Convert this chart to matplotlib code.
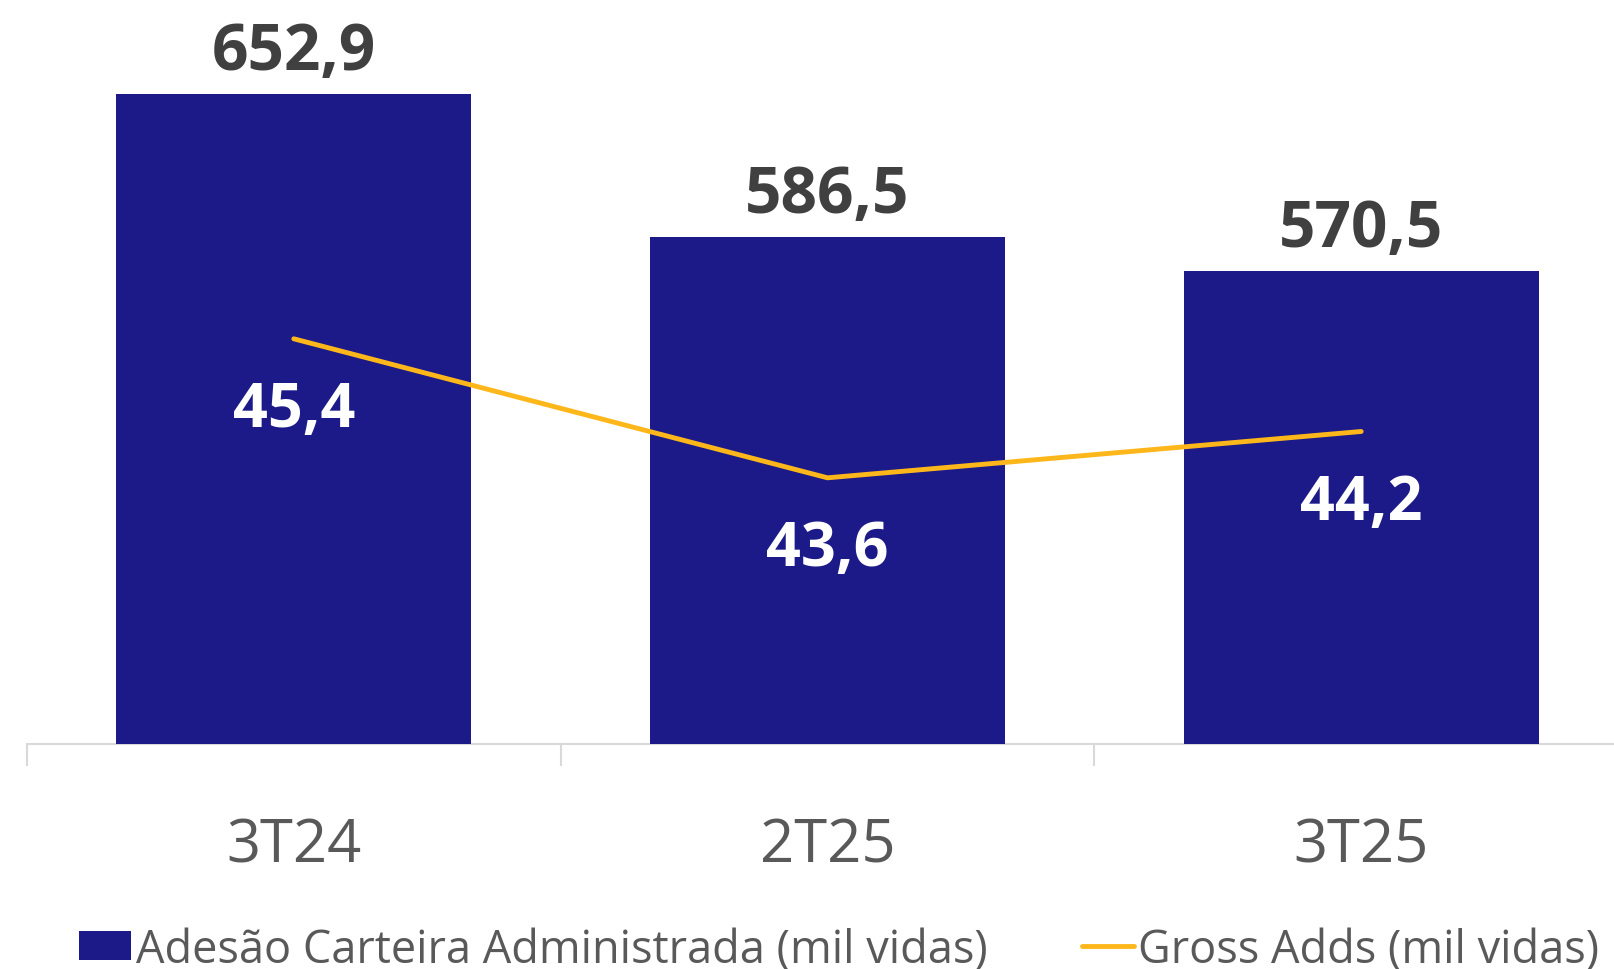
import matplotlib.pyplot as plt
import numpy as np

plt.rcParams['font.family'] = ['Open Sans', 'DejaVu Sans']

categories = ['3T24', '2T25', '3T25']
carteira = [652.9, 586.5, 570.5]
gross_adds = [45.4, 43.6, 44.2]
carteira_labels = ['652,9', '586,5', '570,5']
gross_labels = ['45,4', '43,6', '44,2']

BAR_COLOR = '#1B1A88'
LINE_COLOR = '#FDB71A'
AXIS_COLOR = '#D9D9D9'

fig = plt.figure(figsize=(16.14, 9.70), dpi=100)
ax = fig.add_axes([0.0167, 0.2317, 0.992, 0.7683])
x = np.arange(len(categories))

bars = ax.bar(x, carteira, width=0.665, color=BAR_COLOR, zorder=2,
              label='Adesão Carteira Administrada (mil vidas)')
ax.set_xlim(-0.5, 2.5)
ax.set_ylim(351, 697)

for xi, v, lab in zip(x, carteira, carteira_labels):
    ax.annotate(lab, (xi, v), xytext=(0, 18), textcoords='offset points',
                ha='center', va='baseline', fontsize=46, fontweight='bold',
                color='#404040')

ax2 = ax.twinx()
ax2.plot(x, gross_adds, color=LINE_COLOR, lw=3.5, solid_capstyle='round',
         zorder=3, label='Gross Adds (mil vidas)')
ax2.set_ylim(40.15, 49.8)
for xi, v, lab in zip(x, gross_adds, gross_labels):
    ax2.annotate(lab, (xi, v), xytext=(0, -63), textcoords='offset points',
                 ha='center', va='baseline', fontsize=44, fontweight='bold',
                 color='white')

for a in (ax, ax2):
    for s in ('top', 'right', 'left'):
        a.spines[s].set_visible(False)
    a.set_yticks([])
ax2.spines['bottom'].set_visible(False)
ax.spines['bottom'].set_color(AXIS_COLOR)
ax.spines['bottom'].set_linewidth(1.5)
ax.spines['bottom'].set_zorder(1)

ax.set_xticks(x)
ax.set_xticklabels(categories, fontsize=43, color='#595959')
ax.tick_params(axis='x', which='major', length=0, pad=51)
ax.set_xticks([-0.5, 0.5, 1.5, 2.5], minor=True)
ax.tick_params(axis='x', which='minor', length=16, width=1.5, color=AXIS_COLOR)

handles = [bars, ax2.get_lines()[0]]
fig.legend(handles, [h.get_label() for h in handles], loc='center',
           bbox_to_anchor=(0.52, 0.02), ncol=2, frameon=False,
           fontsize=32.5, labelcolor='#595959', handlelength=1.15,
           handleheight=0.6, handletextpad=0.1, columnspacing=2.1,
           borderpad=0, borderaxespad=0)

fig.savefig('out.png', dpi=100)
